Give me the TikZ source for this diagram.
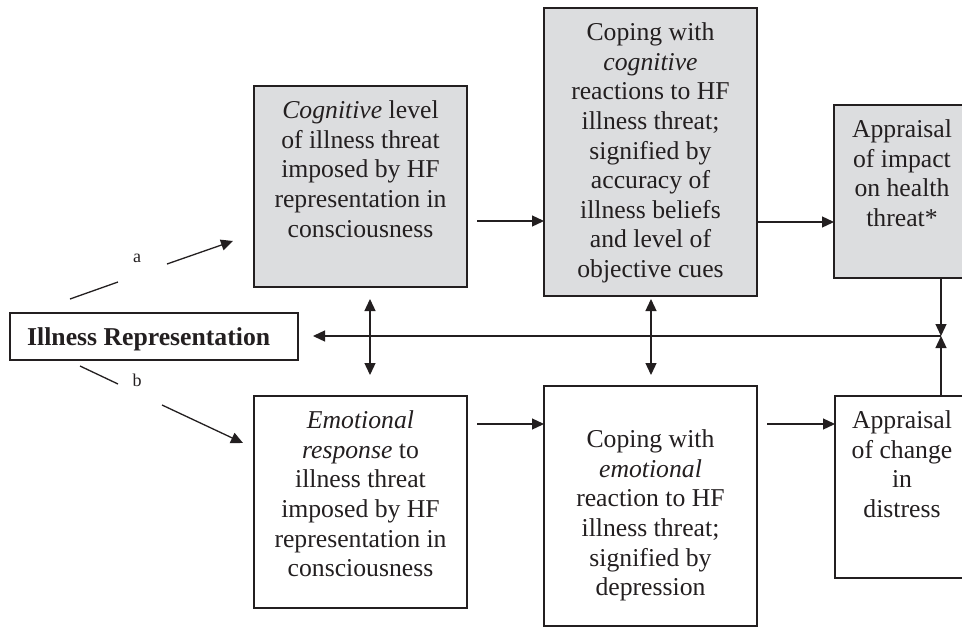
\documentclass[tikz,border=0pt]{standalone}
\usepackage{fontspec}
\setmainfont{Liberation Serif}
\usetikzlibrary{arrows.meta,calc}
\definecolor{boxgray}{RGB}{220,221,223}
\definecolor{ink}{RGB}{35,31,32}
\begin{document}
\begin{tikzpicture}[x=1pt,y=-1pt,
  box/.style={draw=ink,line width=1.6pt,rectangle,inner sep=0pt,outer sep=0pt,anchor=north west},
  gbox/.style={box,fill=boxgray},
  txt/.style={align=center,inner sep=0pt,anchor=north,font=\fontsize{25.7}{29.6}\selectfont,text=ink},
  arr/.style={draw=ink,line width=1.3pt,-{Triangle[length=12pt,width=11pt]}},
  darr/.style={draw=ink,line width=1.3pt,{Triangle[length=12pt,width=11pt]}-{Triangle[length=12pt,width=11pt]}},
  ln/.style={draw=ink,line width=1.3pt},
  lab/.style={font=\fontsize{18}{20}\selectfont,text=ink,inner sep=0pt}]
\clip (0,0) rectangle (962,627);
\fill[white] (0,0) rectangle (962,627);

% boxes
\node[gbox,minimum width=213pt,minimum height=201pt] (b1) at (254,86) {};
\node[gbox,minimum width=213pt,minimum height=288pt] (b2) at (544,8) {};
\node[gbox,minimum width=160pt,minimum height=173pt] (b3) at (834,105) {};
\node[box,minimum width=213pt,minimum height=212pt] (b4) at (254,396) {};
\node[box,minimum width=213pt,minimum height=240pt] (b5) at (544,386) {};
\node[box,minimum width=160pt,minimum height=182pt] (b6) at (835,396) {};
\node[box,minimum width=288pt,minimum height=47pt] (ir) at (10,313) {};

% texts
\node[txt] (t1) at (360.5,100.6) {\textit{Cognitive} level\\of illness threat\\imposed by HF\\representation in\\consciousness};
\node[txt] (t2) at (650.5,22.6) {Coping with\\\textit{cognitive}\\reactions to HF\\illness threat;\\signified by\\accuracy of\\illness beliefs\\and level of\\objective cues};
\node[txt] (t3) at (902,119.6) {Appraisal\\of impact\\on health\\threat*};
\node[txt] (t4) at (360.5,410.6) {\textit{Emotional}\\\textit{response} to\\illness threat\\imposed by HF\\representation in\\consciousness};
\node[txt] (t5) at (650.5,429.6) {Coping with\\\textit{emotional}\\reaction to HF\\illness threat;\\signified by\\depression};
\node[txt] (t6) at (902,410.6) {Appraisal\\of change\\in\\distress};
\node[anchor=base west,inner sep=0pt,text=ink,font=\bfseries\fontsize{25.7}{29}\selectfont] (irt) at (27,345) {Illness Representation};

% labels
\node[lab] (la) at (137,258) {a};
\node[lab] (lb) at (137,380) {b};

% coordinates
\coordinate (aS) at (70,299);
\coordinate (aM1) at (118,282);
\coordinate (aM2) at (167,264);
\coordinate (aE) at (233,241);
\coordinate (bS) at (80,366);
\coordinate (bM1) at (118,384);
\coordinate (bM2) at (162,405);
\coordinate (bE) at (243,443);
\coordinate (h12) at (477,221);
\coordinate (h23) at (757,222);
\coordinate (h45) at (477,424);
\coordinate (h56) at (767,424);
\coordinate (mid) at (941,336);
\coordinate (hl) at (313,336);
\coordinate (d1t) at (370,299);
\coordinate (d1b) at (370,375);
\coordinate (d2t) at (651,299);
\coordinate (d2b) at (651,375);

% connectors
\draw[ln] (aS) -- (aM1);
\draw[arr] (aM2) -- (aE);
\draw[ln] (bS) -- (bM1);
\draw[arr] (bM2) -- (bE);
\draw[arr] (h12) -- (h12 -| b2.west);
\draw[arr] (h23) -- (h23 -| b3.west);
\draw[arr] (h45) -- (h45 -| b5.west);
\draw[arr] (h56) -- (h56 -| b6.west);
\draw[arr] (b3.south -| mid) -- (mid);
\draw[arr] (b6.north -| mid) -- (mid);
\draw[arr] (mid) -- (hl);
\draw[darr] (d1t) -- (d1b);
\draw[darr] (d2t) -- (d2b);
\end{tikzpicture}
\end{document}
